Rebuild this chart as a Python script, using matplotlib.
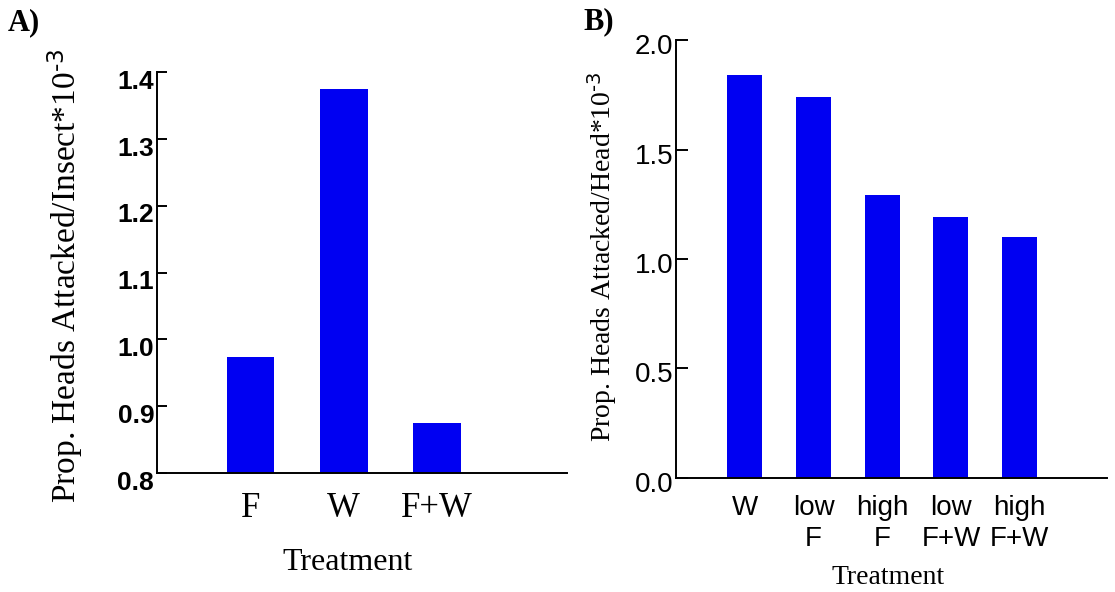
import numpy as np
import matplotlib
matplotlib.use("Agg")
import matplotlib.pyplot as plt
from matplotlib.transforms import ScaledTranslation

plt.rcParams['mathtext.default'] = 'regular'

SERIF = 'Liberation Serif'
SANS = 'Liberation Sans'
BLUE = '#0000f2'

# panel A: per insect
treat_a = ['F', 'W', 'F+W']
prop_a = [0.974, 1.375, 0.875]

# panel B: per head
treat_b = ['W', 'low\nF', 'high\nF', 'low\nF+W', 'high\nF+W']
prop_b = [1.84, 1.74, 1.29, 1.19, 1.10]

fig = plt.figure(figsize=(11.15, 5.92), dpi=100)
ax1 = fig.add_axes([0.1408, 0.201, 0.3677, 0.677])
ax2 = fig.add_axes([0.6063, 0.1926, 0.3865, 0.7398])


def style_axes(ax, ticklen):
    for s in ['top', 'right']:
        ax.spines[s].set_visible(False)
    for s in ['left', 'bottom']:
        ax.spines[s].set_linewidth(1.4)
    ax.tick_params(axis='y', direction='in', length=ticklen, width=1.4, pad=2)
    ax.tick_params(axis='x', length=0, pad=14)


def shift_labels(labels, dy):
    for lab in labels:
        lab.set_transform(lab.get_transform() + ScaledTranslation(0, dy / 100, fig.dpi_scale_trans))


# A
x = np.arange(len(treat_a))
ax1.bar(x, prop_a, width=0.51, color=BLUE, bottom=0, zorder=1)
ax1.set_xlim(-1.0, 3.39)
ax1.set_ylim(0.8, 1.4)
ax1.set_yticks([0.8, 0.9, 1.0, 1.1, 1.2, 1.3, 1.4])
ax1.set_yticklabels(['0.8', '0.9', '1.0', '1.1', '1.2', '1.3', '1.4'],
                    family=SANS, fontsize=19, fontweight='bold')
ax1.set_xticks(x)
ax1.set_xticklabels(treat_a, family=SERIF, fontsize=25)
style_axes(ax1, 7.2)
shift_labels(ax1.get_yticklabels(), -7)

# B
x = np.arange(len(treat_b))
ax2.bar(x, prop_b, width=0.51, color=BLUE)
ax2.set_xlim(-1.0, 5.27)
ax2.set_ylim(0, 2.0)
ax2.set_yticks([0, 0.5, 1.0, 1.5, 2.0])
ax2.set_yticklabels(['0.0', '0.5', '1.0', '1.5', '2.0'], family=SANS, fontsize=20)
ax2.set_xticks(x)
ax2.set_xticklabels(treat_b, family=SANS, fontsize=20, linespacing=1.25)
style_axes(ax2, 8.6)
ax2.tick_params(axis='x', pad=12)
shift_labels(ax2.get_yticklabels(), -4)

# axis titles
fig.text(65 / 1115, 1 - 276 / 592, 'Prop. Heads Attacked/Insect*10$^{\\text{-3}}$',
         family=SERIF, fontsize=24, rotation=90, ha='center', va='center')
fig.text(348 / 1115, 1 - 563 / 592, 'Treatment', family=SERIF, fontsize=23,
         ha='center', va='center')
fig.text(602 / 1115, 1 - 257 / 592, 'Prop. Heads Attacked/Head*10$^{\\text{-3}}$',
         family=SERIF, fontsize=20, rotation=90, ha='center', va='center')
fig.text(888 / 1115, 1 - 578 / 592, 'Treatment', family=SERIF, fontsize=20,
         ha='center', va='center')

# panel letters
fig.text(24 / 1115, 1 - 23 / 592, 'A)', family=SERIF, fontsize=22,
         fontweight='bold', ha='center', va='center')
fig.text(599 / 1115, 1 - 22 / 592, 'B)', family=SERIF, fontsize=22,
         fontweight='bold', ha='center', va='center')

fig.savefig('out.png', dpi=100)
